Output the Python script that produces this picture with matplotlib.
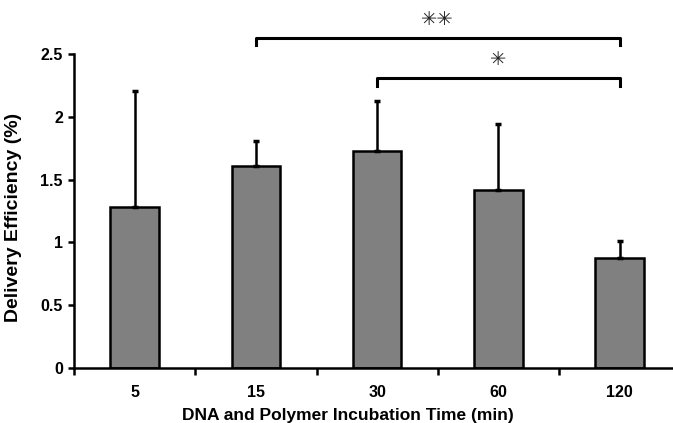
import matplotlib
matplotlib.use("Agg")
import matplotlib.pyplot as plt

# datos
tiempos = ['5', '15', '30', '60', '120']
eficiencia = [1.28, 1.61, 1.73, 1.42, 0.88]
error_sup = [0.93, 0.20, 0.40, 0.52, 0.13]

# comparaciones significativas: (indice_i, indice_j, altura, etiqueta)
comparaciones = [(1, 4, 2.63, '\u2733\u2733'), (2, 4, 2.31, '\u2733')]

plt.rcParams['font.family'] = ['Liberation Sans', 'DejaVu Sans']

fig = plt.figure(figsize=(6.73, 4.23), dpi=100)
ax = fig.add_axes([0.110, 0.130, 0.890, 0.742])

x = list(range(len(tiempos)))
ax.bar(x, eficiencia, width=0.40, color='#808080', edgecolor='black', linewidth=1.8,
       yerr=[[0] * len(error_sup), error_sup], error_kw=dict(ecolor='black', elinewidth=1.8,
                                                         capsize=2, capthick=2.5), zorder=2)

ax.set_xlim(-0.5, 4.44)
ax.set_ylim(0, 2.5)
ax.set_yticks([0, 0.5, 1, 1.5, 2, 2.5])
ax.set_yticklabels(['0', '0.5', '1', '1.5', '2', '2.5'])
ax.set_xticks([i - 0.5 for i in x])
ax.set_xticklabels([])
ax.set_xticks(x, minor=True)
ax.set_xticklabels(tiempos, minor=True)
ax.tick_params(axis='x', which='minor', length=0, pad=12)
ax.tick_params(axis='x', which='major', length=5, width=1.8, direction='out')
ax.tick_params(axis='y', length=4, width=1.8, direction='out', pad=4)
for lab in ax.get_xticklabels(minor=True) + ax.get_yticklabels():
    lab.set_fontweight('bold')
    lab.set_fontsize(11.5)

for s in ['top', 'right']:
    ax.spines[s].set_visible(False)
for s in ['left', 'bottom']:
    ax.spines[s].set_linewidth(1.8)

ax.set_xlabel('DNA and Polymer Incubation Time (min)', fontsize=12.5, fontweight='bold')
ax.set_ylabel('Delivery Efficiency (%)', fontsize=14, fontweight='bold')
ax.xaxis.set_label_coords(0.457, -0.126)
ax.yaxis.set_label_coords(-0.087, 0.48)

# corchetes de significancia
for i, j, h, txt in comparaciones:
    ax.plot([i, i, j, j], [h - 0.06, h, h, h - 0.06], color='black', linewidth=2.2,
            clip_on=False)
    ax.text((i + j) / 2, h + 0.07, txt, ha='center', va='bottom', fontsize=14,
            family=['DejaVu Sans'], color='#222222', clip_on=False)

fig.savefig('out.png', dpi=100)
